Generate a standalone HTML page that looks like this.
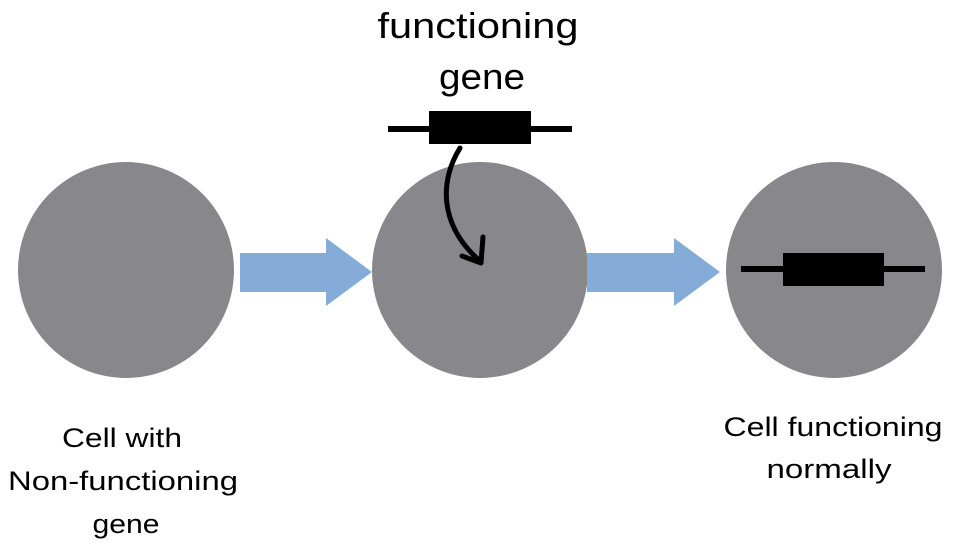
<!DOCTYPE html>
<html><head><style>
body{margin:0;background:#fff;}
svg text{font-family:"Liberation Sans",sans-serif;fill:#000;text-anchor:middle;}
</style></head><body>
<svg width="960" height="540" viewBox="0 0 960 540" xmlns="http://www.w3.org/2000/svg">
<circle cx="126" cy="270" r="108" fill="#88878c"/>
<circle cx="480" cy="270" r="108" fill="#88878c"/>
<circle cx="834" cy="270" r="108" fill="#88878c"/>
<polygon points="240,253 326,253 326,238 372,272 326,306 326,292 240,292" fill="#85acd9"/>
<polygon points="587,253 674,253 674,238 720,272 674,306 674,292 587,292" fill="#85acd9"/>
<rect x="388" y="126" width="184" height="6" fill="#000"/>
<rect x="429" y="111" width="102" height="33" fill="#000"/>
<rect x="741" y="266" width="184" height="6" fill="#000"/>
<rect x="783" y="253" width="101" height="33" fill="#000"/>
<path d="M460,148 C440,180 438,225 481,262" fill="none" stroke="#000" stroke-width="5" stroke-linecap="round"/>
<path d="M462,256 L481,263 L483,237" fill="none" stroke="#000" stroke-width="5" stroke-linecap="round" stroke-linejoin="round"/>
<text x="478" y="38" font-size="36" textLength="201" lengthAdjust="spacingAndGlyphs">functioning</text>
<text x="482" y="89" font-size="36" textLength="86" lengthAdjust="spacingAndGlyphs">gene</text>
<text x="122" y="447" font-size="27" textLength="120" lengthAdjust="spacingAndGlyphs">Cell with</text>
<text x="123" y="490" font-size="27" textLength="230" lengthAdjust="spacingAndGlyphs">Non-functioning</text>
<text x="126" y="533" font-size="27" textLength="67" lengthAdjust="spacingAndGlyphs">gene</text>
<text x="833" y="436" font-size="27" textLength="219" lengthAdjust="spacingAndGlyphs">Cell functioning</text>
<text x="829" y="478" font-size="27" textLength="125" lengthAdjust="spacingAndGlyphs">normally</text>
</svg>
</body></html>
